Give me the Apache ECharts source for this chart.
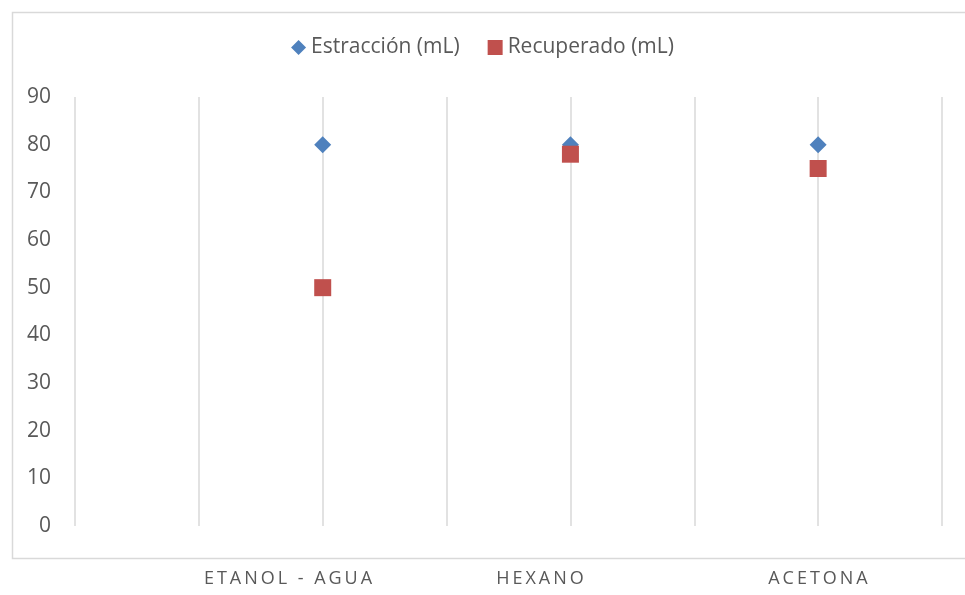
<!DOCTYPE html>
<html>
<head>
<meta charset="utf-8">
<script src="https://cdn.jsdelivr.net/npm/echarts@6/dist/echarts.min.js"></script>
<style>
  html, body { margin: 0; padding: 0; background: #ffffff; }
  #chart { width: 965px; height: 595px; }
</style>
</head>
<body>
<div id="chart"></div>
<script>
// Solvents, their position on the x scale, and the volumes measured for each
const categories = ['ETANOL - AGUA', 'HEXANO', 'ACETONA'];
const xPositions = [2, 4, 6];
const extraccion = [80, 80, 80];
const recuperado = [50, 78, 75];
const seriesNames = ['Estracción (mL)', 'Recuperado (mL)'];

const pairs = (vals) => vals.map((v, i) => [xPositions[i], v]);

// widen letter spacing of the solvent labels with thin spaces
const spaced = (s) => s.split('').join('\u2009');

const labelCenters = [288, 540, 818];

const chart = echarts.init(document.getElementById('chart'), null, { renderer: 'canvas' });

chart.setOption({
  animation: false,
  backgroundColor: '#ffffff',
  textStyle: { fontFamily: 'Open Sans' },
  grid: { left: 75, right: 23, top: 97, bottom: 69, containLabel: false },
  legend: {
    top: 32,
    left: 'center',
    itemGap: 28,
    itemWidth: 15,
    itemHeight: 15,
    itemTextGap: 6,
    textStyle: { fontSize: 21, color: '#595959', fontFamily: 'Open Sans' },
    data: [
      { name: seriesNames[0], icon: 'diamond' },
      { name: seriesNames[1], icon: 'rect' }
    ]
  },
  xAxis: {
    type: 'value',
    min: 0,
    max: 7,
    interval: 1,
    axisLine: { show: false },
    axisTick: { show: false },
    axisLabel: { show: false },
    splitLine: { show: true, lineStyle: { color: '#d9d9d9', width: 1.5 } }
  },
  yAxis: {
    type: 'value',
    min: 0,
    max: 90,
    interval: 10,
    axisLine: { show: false },
    axisTick: { show: false },
    splitLine: { show: false },
    axisLabel: { color: '#595959', fontSize: 21, margin: 24, fontFamily: 'Open Sans' }
  },
  series: [
    {
      name: seriesNames[0],
      type: 'scatter',
      symbol: 'diamond',
      symbolSize: 17,
      itemStyle: { color: '#4f81bd', opacity: 1 },
      data: pairs(extraccion),
      z: 2
    },
    {
      name: seriesNames[1],
      type: 'scatter',
      symbol: 'rect',
      symbolSize: 17,
      itemStyle: { color: '#c0504d', opacity: 1 },
      data: pairs(recuperado),
      z: 3
    }
  ],
  graphic: [
    {
      type: 'rect',
      left: 10,
      top: 10,
      shape: { width: 1000, height: 546 },
      style: { fill: 'none', stroke: '#d9d9d9', lineWidth: 1.5 },
      silent: true
    }
  ].concat(categories.map((c, i) => ({
    type: 'text',
    x: labelCenters[i],
    y: 579,
    style: {
      text: spaced(c),
      fill: '#595959',
      font: '18px "Open Sans"',
      textAlign: 'center',
      textVerticalAlign: 'middle'
    },
    silent: true
  })))
});
</script>
</body>
</html>
